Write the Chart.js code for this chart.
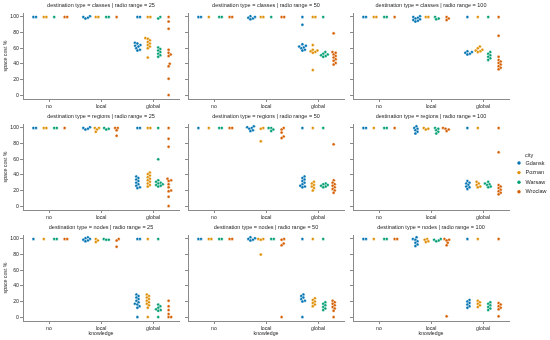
<!DOCTYPE html>
<html>
<head>
<meta charset="utf-8">
<script src="https://cdn.jsdelivr.net/npm/chart.js@4.4.0/dist/chart.umd.min.js"></script>
<style>
  html, body { margin: 0; padding: 0; background: #fff; }
  #wrap { position: relative; width: 550px; height: 340px; }
  #wrap canvas { position: absolute; left: 0; top: 0; }
</style>
</head>
<body>
<div id="wrap"></div>
<script>
const cities = ["Gdansk", "Poznan", "Warsaw", "Wroclaw"];
const cityColors = ["#0173b2", "#de8f05", "#029e73", "#d55e00"];
const knowledge = ["no", "local", "global"];
const destTypes = ["classes", "regions", "nodes"];
const radioRanges = [25, 50, 100];
const yTicks = [0, 20, 40, 60, 80, 100];

// each panel: one entry per city, holding [no, local, global] space cost values
const classes25 = [
  [[100, 100], [101, 100, 99, 98], [100, 100, 67, 66, 64, 63, 62, 60, 58, 57]],
  [[100, 100], [100, 100], [100, 100, 73, 72, 70, 68, 66, 64, 62, 60, 48]],
  [[100], [100, 100], [100, 98, 61, 59, 57, 55, 53, 51, 49]],
  [[100, 100], [100], [100, 94, 85, 58, 54, 52, 50, 40, 37, 21, 0]],
];
const classes50 = [
  [[100, 100], [101, 100, 99, 98, 97], [100, 90, 65, 63, 62, 61, 60, 58, 57]],
  [[100], [100, 100], [100, 100, 64, 58, 57, 56, 55, 54, 32]],
  [[100, 100], [100], [100, 55, 53, 52, 51, 50, 49]],
  [[100, 100], [100, 100], [79, 55, 54, 52, 50, 48, 46, 44, 41, 39]],
];
const classes100 = [
  [[100, 100], [101, 100, 99, 98, 97, 96, 95, 94], [100, 56, 55, 54, 53, 52]],
  [[100, 100], [100, 100], [100, 62, 60, 58, 57, 56, 55]],
  [[100, 100], [100, 98, 97], [100, 55, 53, 51, 49, 47, 45]],
  [[100], [100, 98, 96], [100, 76, 49, 45, 43, 41, 39, 37, 35, 33]],
];
const regions25 = [
  [[100, 100], [101, 100, 99, 98], [100, 100, 38, 36, 34, 32, 30, 28, 26, 24, 23]],
  [[100, 100], [100, 100, 98, 95], [100, 100, 43, 41, 39, 37, 35, 33, 31, 29, 27, 25]],
  [[100, 100], [100, 99, 98], [100, 60, 33, 31, 30, 29, 28, 27, 26, 25]],
  [[100], [100, 100, 97, 90], [100, 86, 76, 35, 33, 32, 28, 24, 20, 19, 12, 0]],
];
const regions50 = [
  [[100], [102, 101, 100, 99, 97, 96], [100, 38, 36, 34, 32, 30, 28, 26, 25, 24]],
  [[100], [100, 99, 83], [100, 31, 29, 27, 25, 23, 20]],
  [[100, 100], [100, 100, 98, 96], [100, 29, 28, 27, 26, 25, 24]],
  [[100, 100], [100, 98, 94, 89, 87], [79, 33, 30, 28, 26, 24, 22, 20, 17]],
];
const regions100 = [
  [[100, 100], [102, 100, 99, 97, 95, 93], [100, 32, 30, 29, 27, 25, 24, 22]],
  [[100], [100, 99, 98], [100, 31, 29, 27, 25, 24]],
  [[100, 100], [100, 99, 97, 95, 93], [31, 29, 28, 27, 25, 24]],
  [[100], [100, 99, 98, 96], [100, 69, 27, 25, 23, 21, 19, 17, 15]],
];
const nodes25 = [
  [[100], [102, 101, 100, 99, 98, 97], [100, 100, 29, 27, 25, 23, 21, 19, 17, 16, 14, 12, 0]],
  [[100], [100, 98, 96], [100, 29, 27, 25, 23, 21, 19, 17, 15, 12, 0]],
  [[100, 100], [100, 99, 99], [100, 16, 14, 12, 10, 9, 8, 0]],
  [[100, 100], [100, 98, 90], [21, 14, 9, 4, 0, 0]],
];
const nodes50 = [
  [[100, 100], [102, 101, 100, 99, 98], [100, 29, 27, 25, 23, 21, 20, 0]],
  [[100, 100], [100, 100, 99, 80], [100, 24, 22, 20, 18, 16, 14]],
  [[100, 100], [100, 100], [100, 19, 17, 15, 13, 11, 9]],
  [[100, 100], [100, 99, 94, 92, 0], [21, 19, 17, 15, 13, 11, 8, 0]],
];
const nodes100 = [
  [[100, 100], [102, 100, 99, 97, 95, 93, 91], [100, 22, 20, 18, 16, 14, 12]],
  [[100], [100, 99, 97, 96], [100, 21, 19, 17, 15, 13]],
  [[100, 100], [100, 99, 98, 97], [19, 17, 15, 13, 11, 9]],
  [[100, 100], [100, 99, 98, 95, 92, 1], [100, 18, 16, 14, 12, 10, 1]],
];

const panels = [
  [classes25, classes50, classes100],
  [regions25, regions50, regions100],
  [nodes25, nodes50, nodes100],
];

// layout of the 3x3 grid
const W = 550, H = 340;
const colLeft = [23, 188, 353];
const rowTop = [13, 124, 235];
const plotW = 156, plotH = 86;
const yAxisW = 23, xAxisH = 18;
const pxPerX = plotW / 3;
const pxPerY = plotH / 110;
const hueOffset = [-0.3, -0.1, 0.1, 0.3];
const dot = 2.6;
const halfWidth = 0.1 * pxPerX;

const textColor = "#262626";
const axisColor = "#8a8a8a";
const fontFamily = "'Liberation Sans', Arial, sans-serif";

// simple beeswarm: place each point as close to the centre as it can go
function swarm(vals) {
  const placed = [];
  const out = new Array(vals.length);
  const order = vals.map((v, i) => i).sort((a, b) => vals[a] - vals[b]);
  for (const i of order) {
    const y = vals[i] * pxPerY;
    const near = placed.filter((p) => Math.abs(p.y - y) < dot);
    const cands = [0];
    near.forEach((p) => {
      const dx = Math.sqrt(dot * dot - (p.y - y) ** 2);
      cands.push(p.x + dx, p.x - dx);
    });
    cands.sort((a, b) => Math.abs(a) - Math.abs(b));
    const x = cands.find((c) =>
      near.every((p) => Math.hypot(p.x - c, p.y - y) >= dot - 1e-6)
    );
    placed.push({ x: x, y: y });
    out[i] = Math.max(-halfWidth, Math.min(halfWidth, x));
  }
  return out;
}

const panelTitle = {
  id: "panelTitle",
  afterDraw(chart, args, opts) {
    const { ctx, chartArea } = chart;
    ctx.save();
    ctx.font = "5.5px " + fontFamily;
    ctx.fillStyle = textColor;
    ctx.textAlign = "center";
    ctx.textBaseline = "middle";
    ctx.fillText(opts.text, (chartArea.left + chartArea.right) / 2, chartArea.top - 8);
    ctx.restore();
  },
};

const cityLegend = {
  id: "cityLegend",
  afterDraw(chart, args, opts) {
    if (!opts.show) return;
    const ctx = chart.ctx;
    ctx.save();
    ctx.font = "5.5px " + fontFamily;
    ctx.fillStyle = textColor;
    ctx.textBaseline = "middle";
    ctx.textAlign = "left";
    ctx.fillText("city", 525, 155);
    cities.forEach((name, i) => {
      const y = 163 + i * 9.6;
      ctx.beginPath();
      ctx.arc(519, y, 1.7, 0, Math.PI * 2);
      ctx.fillStyle = cityColors[i];
      ctx.fill();
      ctx.fillStyle = textColor;
      ctx.fillText(name, 525.5, y);
    });
    ctx.restore();
  },
};

function makeDatasets(panel) {
  return cities.map((city, ci) => {
    const pts = [];
    panel[ci].forEach((vals, ki) => {
      const offs = swarm(vals);
      vals.forEach((v, j) => {
        pts.push({ x: ki + hueOffset[ci] + offs[j] / pxPerX, y: v });
      });
    });
    return {
      label: city,
      data: pts,
      backgroundColor: cityColors[ci],
      borderColor: "#ffffff",
      borderWidth: 0.4,
      pointRadius: 1.5,
    };
  });
}

const wrap = document.getElementById("wrap");

destTypes.forEach((dest, r) => {
  radioRanges.forEach((range, c) => {
    const canvas = document.createElement("canvas");
    canvas.width = W;
    canvas.height = H;
    canvas.style.width = W + "px";
    canvas.style.height = H + "px";
    wrap.appendChild(canvas);

    new Chart(canvas.getContext("2d"), {
      type: "scatter",
      data: { datasets: makeDatasets(panels[r][c]) },
      options: {
        responsive: false,
        animation: false,
        events: [],
        layout: {
          padding: {
            left: colLeft[c] - yAxisW,
            right: W - colLeft[c] - plotW,
            top: rowTop[r],
            bottom: H - rowTop[r] - plotH - xAxisH,
          },
        },
        plugins: {
          legend: { display: false },
          tooltip: { enabled: false },
          panelTitle: { text: `destination type = ${dest} | radio range = ${range}` },
          cityLegend: { show: r === 1 && c === 2 },
        },
        scales: {
          x: {
            type: "linear",
            min: -0.5,
            max: 2.5,
            afterFit: (s) => { s.height = xAxisH; },
            afterBuildTicks: (s) => { s.ticks = knowledge.map((k, i) => ({ value: i })); },
            ticks: {
              callback: (v) => knowledge[v],
              color: textColor,
              font: { family: fontFamily, size: 5.2 },
              padding: 1,
              maxRotation: 0,
              autoSkip: false,
            },
            grid: { drawOnChartArea: false, tickLength: 3, color: axisColor },
            border: { color: axisColor, width: 1 },
            title: {
              display: r === 2,
              text: "knowledge",
              color: textColor,
              font: { family: fontFamily, size: 5.2 },
              padding: { top: 0, bottom: 2 },
            },
          },
          y: {
            min: -5,
            max: 105,
            afterFit: (s) => { s.width = yAxisW; },
            afterBuildTicks: (s) => { s.ticks = yTicks.map((v) => ({ value: v })); },
            ticks: {
              display: c === 0,
              color: textColor,
              font: { family: fontFamily, size: 5.2 },
              padding: 1,
            },
            grid: { drawOnChartArea: false, tickLength: 3, color: axisColor },
            border: { color: axisColor, width: 1 },
            title: {
              display: c === 0,
              text: "space cost %",
              color: textColor,
              font: { family: fontFamily, size: 5.2 },
              padding: { top: 2, bottom: 0 },
            },
          },
        },
      },
      plugins: [panelTitle, cityLegend],
    });
  });
});
</script>
</body>
</html>
